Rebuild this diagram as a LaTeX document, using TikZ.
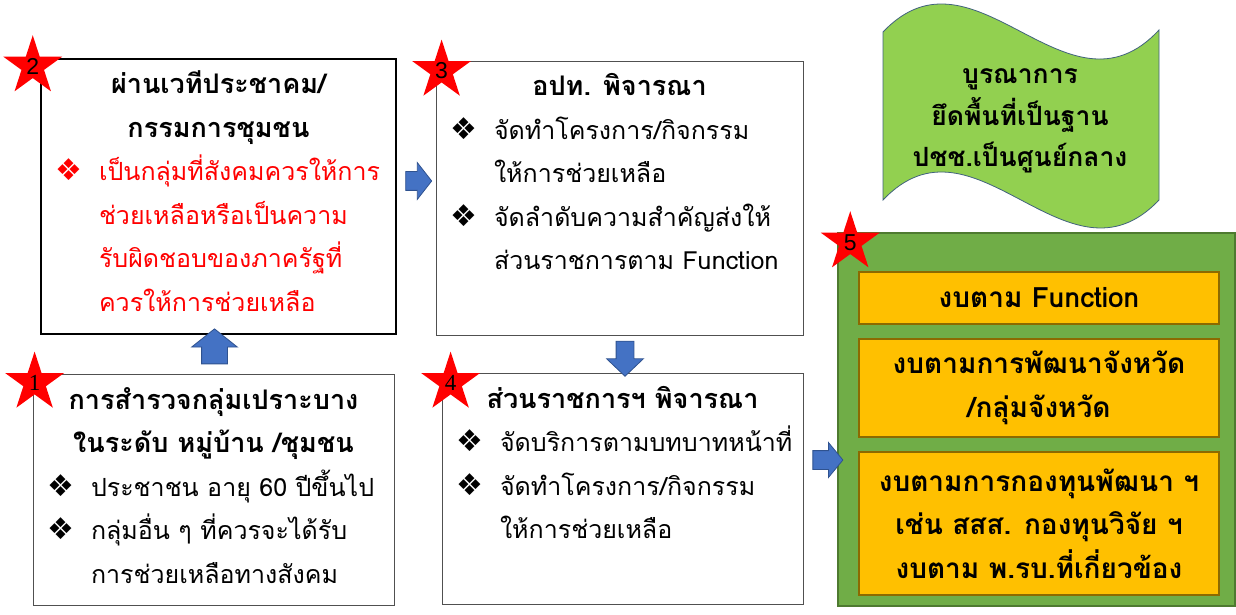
\documentclass[tikz,border=0pt]{standalone}
\usepackage{fontspec}
\setmainfont{Liberation Sans}
\newfontfamily\thaifont[Script=Thai]{Loma}
\newfontfamily\symfont{DejaVu Sans}
\newfontfamily\serifnum{Liberation Serif}
\usetikzlibrary{shapes.geometric, shapes.arrows, positioning}

\definecolor{arrowblue}{HTML}{4472C4}
\definecolor{arrowline}{HTML}{2F528F}
\definecolor{flaggreen}{HTML}{92D050}
\definecolor{flagline}{HTML}{41627E}
\definecolor{panelgreen}{HTML}{70AD47}
\definecolor{panelline}{HTML}{4E7A30}
\definecolor{gold}{HTML}{FFC000}
\definecolor{goldline}{HTML}{8C6A00}
\definecolor{boxgray}{HTML}{505050}
\definecolor{starred}{HTML}{FF0000}

% title line, bullet line, continuation line, first line strut
\newcommand{\ttl}[1]{{\bfseries\fontsize{27}{43.5}\selectfont #1}}
\newcommand{\itm}[1]{\hspace*{14pt}\makebox[44pt][l]{\symfont\fontsize{30}{30}\selectfont\char"2756}#1}
\newcommand{\cont}[1]{\hspace*{58pt}#1}
\newcommand{\firstline}{\rule{0pt}{35pt}}

\begin{document}
\begin{tikzpicture}[
    x=1pt, y=1pt,
    card/.style={rectangle, draw=boxgray, fill=white, line width=0.8pt, inner sep=0pt, font=\thaifont\fontsize{25}{43.5}\selectfont},
    badge/.style={star, star points=5, star point ratio=2.618, fill=starred, draw=none, minimum size=62pt, inner sep=0pt, font=\fontsize{23}{23}\selectfont},
    blockarrow/.style={single arrow, draw=arrowline, fill=arrowblue, line width=0.8pt, inner sep=0pt},
    panel/.style={rectangle, draw=panelline, fill=panelgreen, line width=1.5pt, minimum width=397pt, minimum height=373pt},
    budget/.style={rectangle, draw=goldline, fill=gold, line width=1.2pt, minimum width=360pt, align=center, font=\thaifont\bfseries\fontsize{28}{43.5}\selectfont},
    flagtext/.style={align=center, font=\thaifont\bfseries\fontsize{26.5}{41.5}\selectfont}
]
\useasboundingbox (0,0) rectangle (1236,614);

% Step 2
\node[card, draw=black, line width=2.5pt] (s2) at (218.5,417.5) {\parbox[c][275pt][t]{355pt}{\centering\firstline\ttl{ผ่านเวทีประชาคม/}\\ \ttl{กรรมการชุมชน}\par
  \raggedright\color{red}\itm{เป็นกลุ่มที่สังคมควรให้การ}\\ \cont{ช่วยเหลือหรือเป็นความ}\\ \cont{รับผิดชอบของภาครัฐที่}\\ \cont{ควรให้การช่วยเหลือ}}};

% Step 3
\node[card] (s3) at (619.5,416) {\parbox[c][274pt][t]{367pt}{\centering\firstline\ttl{อปท. พิจารณา}\par
  \raggedright\itm{จัดทำโครงการ/กิจกรรม}\\ \cont{ให้การช่วยเหลือ}\\ \itm{จัดลำดับความสำคัญส่งให้}\\ \cont{ส่วนราชการตาม Function}}};

% Step 1
\node[card] (s1) at (213.5,124.5) {\parbox[c][231pt][t]{361pt}{\centering\firstline\ttl{การสำรวจกลุ่มเปราะบาง}\\ \ttl{ในระดับ หมู่บ้าน /ชุมชน}\par
  \raggedright\itm{ประชาชน อายุ 60 ปีขึ้นไป}\\ \itm{กลุ่มอื่น ๆ ที่ควรจะได้รับ}\\ \cont{การช่วยเหลือทางสังคม}}};

% Step 4
\node[card] (s4) at (622.5,125.5) {\parbox[c][231pt][t]{361pt}{\centering\firstline\ttl{ส่วนราชการฯ พิจารณา}\par
  \raggedright\itm{จัดบริการตามบทบาทหน้าที่}\\ \itm{จัดทำโครงการ/กิจกรรม}\\ \cont{ให้การช่วยเหลือ}}};

% Step 5: budgets
\node[panel] (s5) at (1036.5,194.5) {};
\node[budget, minimum height=52pt] (o1) at (1039,316) {งบตาม Function};
\node[budget, minimum height=98pt] (o2) at (1039,226) {งบตามการพัฒนาจังหวัด\\/กลุ่มจังหวัด};
\node[budget, minimum height=143pt] (o3) at (1039,90.5) {งบตามการกองทุนพัฒนา ฯ\\เช่น สสส. กองทุนวิจัย ฯ\\งบตาม พ.รบ.ที่เกี่ยวข้อง};

% Flag
\filldraw[fill=flaggreen, draw=flagline, line width=0.8pt] (883,582) .. controls (975,679) and (1067,485) .. (1159,584) -- (1159,414) .. controls (1067,317) and (975,511) .. (883,414) -- cycle;
\node[flagtext] (flag) at (1020,493) {บูรณาการ\\ยึดพื้นที่เป็นฐาน\\ปชช.เป็นศูนย์กลาง};

% Arrows
\node[blockarrow, rotate=90, minimum height=35pt, inner ysep=12.5pt, single arrow head extend=10pt, single arrow tip angle=103] (a12) at (214.5,262.5) {};
\node[blockarrow, minimum height=26pt, inner ysep=9pt, single arrow head extend=9pt, single arrow tip angle=104] (a23) at (415,433) {};
\node[blockarrow, rotate=-90, minimum height=35pt, inner ysep=8.5pt, single arrow head extend=9.5pt, single arrow tip angle=93] (a34) at (625,259.5) {};
\node[blockarrow, minimum height=30pt, inner ysep=9pt, single arrow head extend=8pt, single arrow tip angle=101] (a45) at (824,154) {};

% Stars
\node[badge] (n2) at ([shift={(-7,-8.5)}]s2.north west) {2};
\node[badge] (n3) at ([shift={(6,-10)}]s3.north west) {3};
\node[badge, font=\serifnum\fontsize{23}{23}\selectfont] (n1) at ([shift={(2,-9)}]s1.north west) {1};
\node[badge, font=\serifnum\fontsize{23}{23}\selectfont] (n4) at ([shift={(9,-10)}]s4.north west) {4};
\node[badge] (n5) at ([shift={(13,-10)}]s5.north west) {5};

\end{tikzpicture}
\end{document}
